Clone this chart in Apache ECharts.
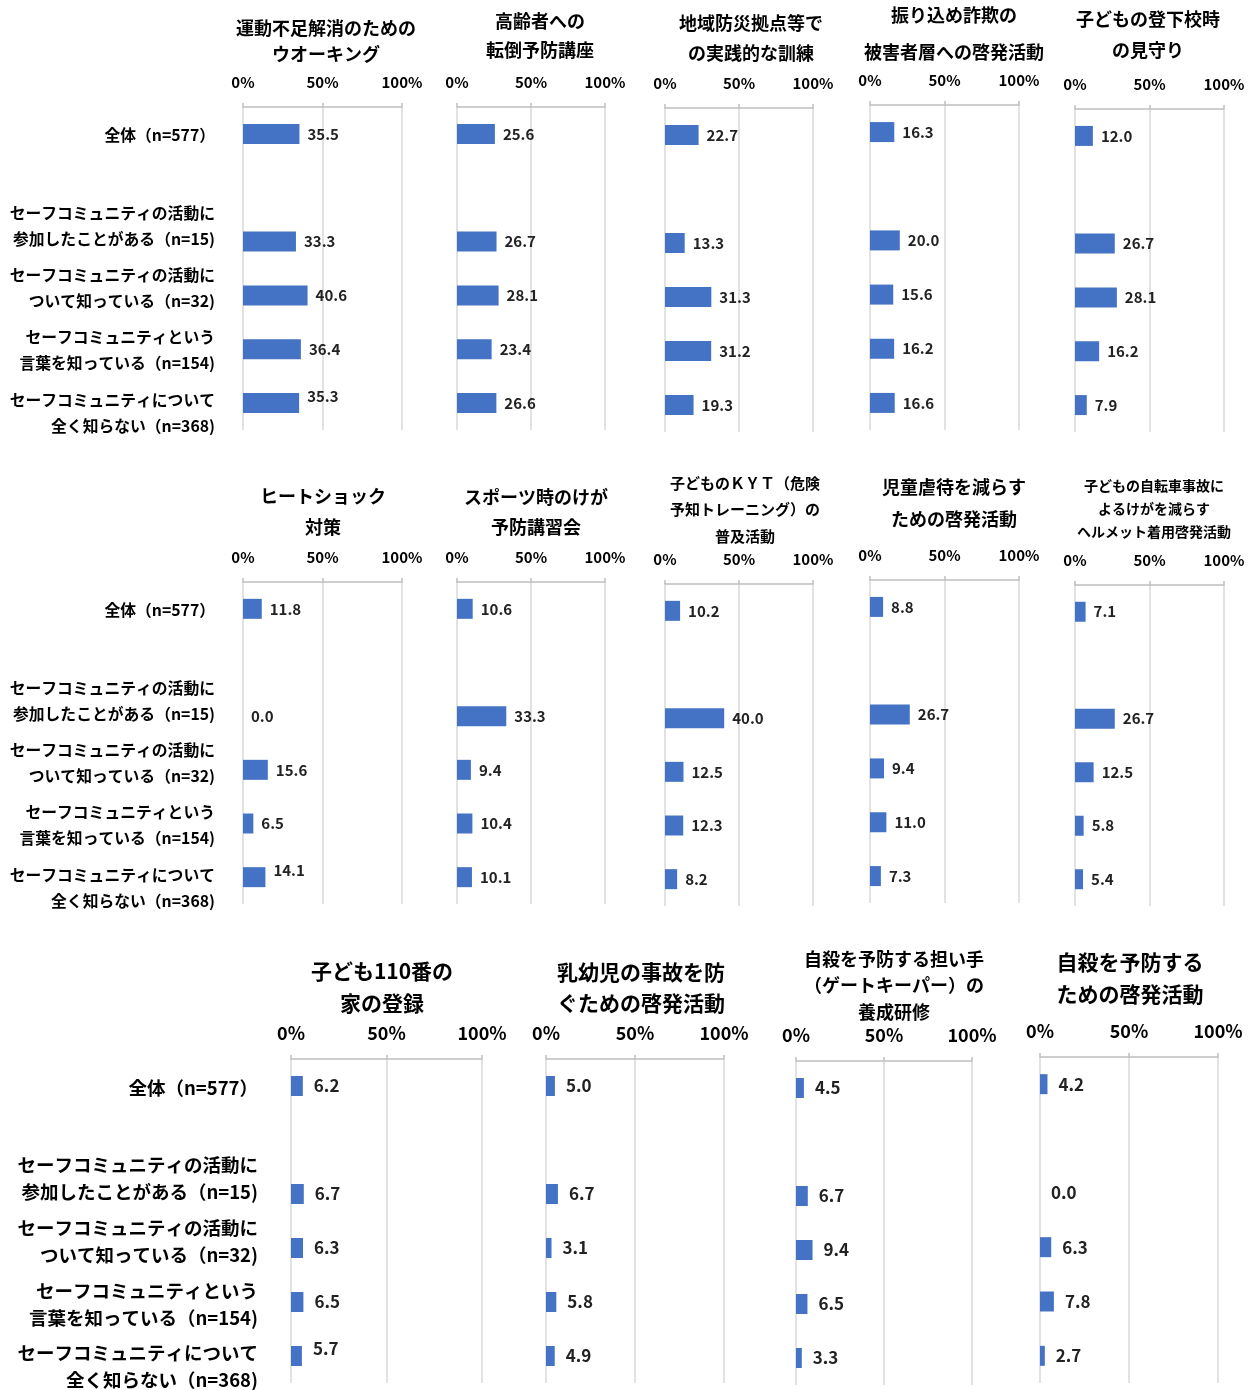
<!DOCTYPE html>
<html>
<head>
<meta charset="utf-8">
<script src="https://cdn.jsdelivr.net/npm/echarts@6/dist/echarts.min.js"></script>
<style>
html,body{margin:0;padding:0;background:#fff;}
#chart{width:1255px;height:1390px;}
</style>
</head>
<body>
<div id="chart"></div>
<script>
// ---------- DATA ----------
const categories = [
  '全体（n=577）',
  ' ',
  'セーフコミュニティの活動に\n参加したことがある（n=15)',
  'セーフコミュニティの活動に\nついて知っている（n=32)',
  'セーフコミュニティという\n言葉を知っている（n=154)',
  'セーフコミュニティについて\n全く知らない（n=368)'
];
const tickLabels = ['0%', '50%', '100%'];

const titles = [
  '運動不足解消のための\nウオーキング',
  '高齢者への\n転倒予防講座',
  '地域防災拠点等で\nの実践的な訓練',
  '振り込め詐欺の\n被害者層への啓発活動',
  '子どもの登下校時\nの見守り',
  'ヒートショック\n対策',
  'スポーツ時のけが\n予防講習会',
  '子どものＫＹＴ（危険\n予知トレーニング）の\n普及活動',
  '児童虐待を減らす\nための啓発活動',
  '子どもの自転車事故に\nよるけがを減らす\nヘルメット着用啓発活動',
  '子ども110番の\n家の登録',
  '乳幼児の事故を防\nぐための啓発活動',
  '自殺を予防する担い手\n（ゲートキーパー）の\n養成研修',
  '自殺を予防する\nための啓発活動'
];

// values per panel: [全体, 参加, 活動を知っている, 言葉を知っている, 全く知らない]
const walking      = [35.5, 33.3, 40.6, 36.4, 35.3];
const fallPrev     = [25.6, 26.7, 28.1, 23.4, 26.6];
const disasterDrill= [22.7, 13.3, 31.3, 31.2, 19.3];
const fraud        = [16.3, 20.0, 15.6, 16.2, 16.6];
const schoolWatch  = [12.0, 26.7, 28.1, 16.2, 7.9];
const heatShock    = [11.8, 0.0, 15.6, 6.5, 14.1];
const sportsInjury = [10.6, 33.3, 9.4, 10.4, 10.1];
const kyt          = [10.2, 40.0, 12.5, 12.3, 8.2];
const childAbuse   = [8.8, 26.7, 9.4, 11.0, 7.3];
const helmet       = [7.1, 26.7, 12.5, 5.8, 5.4];
const house110     = [6.2, 6.7, 6.3, 6.5, 5.7];
const infantAcc    = [5.0, 6.7, 3.1, 5.8, 4.9];
const gatekeeper   = [4.5, 6.7, 9.4, 6.5, 3.3];
const suicidePrev  = [4.2, 0.0, 6.3, 7.8, 2.7];

const panelValues = [walking, fallPrev, disasterDrill, fraud, schoolWatch,
  heatShock, sportsInjury, kyt, childAbuse, helmet,
  house110, infantAcc, gatekeeper, suicidePrev];

// ---------- LAYOUT ----------
const FONT = '"Noto Sans CJK JP","Noto Sans",sans-serif';
const layout = [
  {x0:243,x1:402,top:107,bottom:430,tx:326,ty:28,tlh:26,ts:18,row:0},
  {x0:457,x1:605,top:107,bottom:430,tx:540,ty:21,tlh:29,ts:18,row:0},
  {x0:665,x1:813,top:108,bottom:432,tx:751,ty:23,tlh:30,ts:18,row:0},
  {x0:870,x1:1019,top:105,bottom:430,tx:954,ty:15,tlh:37,ts:18,row:0},
  {x0:1075,x1:1224,top:109,bottom:432,tx:1148,ty:19,tlh:31,ts:18,row:0},
  {x0:243,x1:402,top:582,bottom:904,tx:323,ty:496,tlh:31,ts:18,row:1},
  {x0:457,x1:605,top:582,bottom:904,tx:536,ty:497,tlh:30,ts:18,row:1},
  {x0:665,x1:813,top:584,bottom:906,tx:745,ty:483,tlh:26.5,ts:15,row:1},
  {x0:870,x1:1019,top:580,bottom:903,tx:954,ty:487,tlh:32,ts:18,row:1},
  {x0:1075,x1:1224,top:585,bottom:906,tx:1154,ty:486,tlh:23,ts:14,row:1},
  {x0:291,x1:482,top:1059,bottom:1383,tx:382,ty:971,tlh:32,ts:21,row:2},
  {x0:546,x1:724,top:1059,bottom:1383,tx:641,ty:972,tlh:31,ts:21,row:2},
  {x0:796,x1:972,top:1061,bottom:1385,tx:894,ty:959,tlh:26.5,ts:18,row:2},
  {x0:1040,x1:1218,top:1057,bottom:1383,tx:1130,ty:962,tlh:32,ts:21,row:2}
];
const rowStyle = [
  {tick:15, val:15, dist:8, catSize:15.8, catRight:215, catLH:26, catY:[135,213,275,337,400]},
  {tick:15, val:15, dist:8, catSize:15.8, catRight:215, catLH:26, catY:[610,688,750,812,875]},
  {tick:18, val:17, dist:11, catSize:18.5, catRight:258, catLH:27, catY:[1088,1165,1228,1291,1353]}
];

// ---------- BUILD ----------
const grid = [], xAxis = [], yAxis = [], series = [], graphic = [];
layout.forEach((L, i) => {
  const rs = rowStyle[L.row];
  grid.push({left:L.x0, width:L.x1-L.x0, top:L.top, height:L.bottom-L.top, containLabel:false});
  xAxis.push({
    gridIndex:i, type:'value', min:0, max:100, interval:50, position:'top',
    axisLabel:{formatter:v => tickLabels[v/50], fontSize:rs.tick, fontWeight:'bold', color:'#000', margin:17, fontFamily:FONT, showMaxLabel:true, showMinLabel:true},
    axisLine:{show:true, lineStyle:{color:'#bfbfbf', width:1.5}},
    axisTick:{show:true, length:4, lineStyle:{color:'#bfbfbf', width:1.5}},
    splitLine:{show:true, lineStyle:{color:'#d9d9d9', width:1.5}}
  });
  yAxis.push({
    gridIndex:i, type:'category', inverse:true, data:categories,
    axisLabel:{show:false}, axisLine:{show:false}, axisTick:{show:false}, splitLine:{show:false}
  });
  const v = panelValues[i];
  const data = [v[0], '-', v[1], v[2], v[3], v[4]].map((d, k) => {
    if (d === '-') return '-';
    const item = {value:d};
    if (i % 5 === 0 && L.row < 2 && k === 5) item.label = {offset:[0,-7]};
    if (i === 10 && k === 5) item.label = {offset:[0,-7]};
    return item;
  });
  series.push({
    type:'bar', xAxisIndex:i, yAxisIndex:i, data, barWidth:20,
    itemStyle:{color:'#4472C4'},
    label:{show:true, position:'right', distance:rs.dist, formatter:p => Number(p.value).toFixed(1),
      fontSize:rs.val, fontWeight:'bold', color:'#222', fontFamily:FONT},
    silent:true, animation:false
  });
  graphic.push({
    type:'text',
    x:L.tx, y:L.ty - L.tlh/2,
    style:{text:titles[i], align:'center', textAlign:'center', verticalAlign:'top', textVerticalAlign:'top',
      fontSize:L.ts, fontWeight:'bold', fontFamily:FONT, fill:'#000', lineHeight:L.tlh}
  });
});

rowStyle.forEach(rs => {
  const cats = categories.filter(c => c.trim() !== '');
  cats.forEach((c, k) => {
    graphic.push({
      type:'text', x:rs.catRight, y:rs.catY[k] - rs.catLH/2,
      style:{text:c, align:'right', textAlign:'right', verticalAlign:'top', textVerticalAlign:'top',
        fontSize:rs.catSize, fontWeight:'bold', fontFamily:FONT, fill:'#000', lineHeight:rs.catLH}
    });
  });
});

const chart = echarts.init(document.getElementById('chart'), null, {renderer:'canvas'});
chart.setOption({
  animation:false,
  backgroundColor:'#fff',
  textStyle:{fontFamily:FONT},
  grid, xAxis, yAxis, series, graphic
});
</script>
</body>
</html>
